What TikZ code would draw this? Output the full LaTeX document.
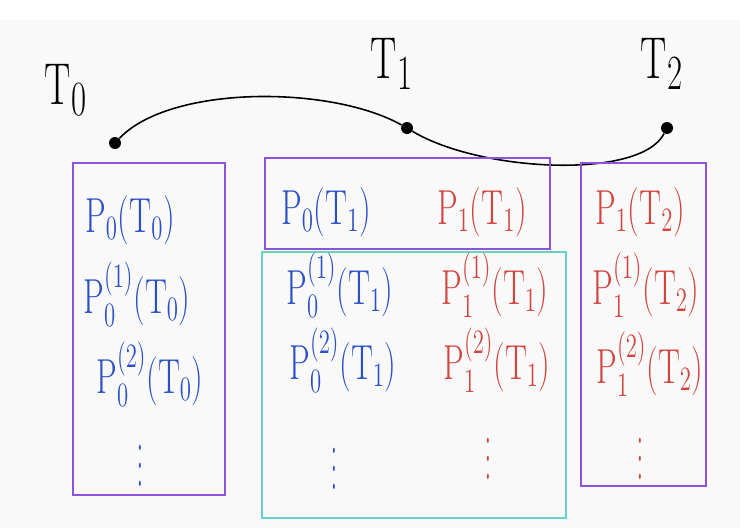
\documentclass[tikz,border=0pt]{standalone}
\usepackage{amsmath}

\definecolor{boxpurple}{HTML}{8E52DB}
\definecolor{boxcyan}{HTML}{62D4C8}
\definecolor{inkblue}{HTML}{2B4FC6}
\definecolor{inkred}{HTML}{D2453F}
\definecolor{paper}{HTML}{F9F9F9}

\newcommand{\hand}[1]{\scalebox{0.9}[1.35]{#1}}
\newcommand{\handdots}{\scalebox{1}[2.6]{\large$\vdots$}}

\begin{document}
\begin{tikzpicture}[
  x=0.02cm, y=-0.02cm,
  dot/.style={
    circle,
    fill=black,
    minimum size=2.4mm,
    inner sep=0pt
  },
  tlabel/.style={
    font=\Huge
  },
  curve/.style={
    line width=0.9pt
  },
  frame/.style={
    line width=1.3pt
  },
  term/.style={
    font=\huge,
    inner sep=1pt
  },
  blueterm/.style={term, text=inkblue},
  redterm/.style={term, text=inkred}
]

\path[use as bounding box] (0,0) rectangle (740,528);
\fill[paper] (0,20) rectangle (740,528);
\fill[white] (0,0) rectangle (740,20);

\node[dot] (t0) at (115,143) {};
\node[dot] (t1) at (407,128) {};
\node[dot] (t2) at (667,128) {};

\node[tlabel] (lt0) at (66,90) {\hand{$\mathrm{T}_0$}};
\node[tlabel] (lt1) at (392,64) {\hand{$\mathrm{T}_1$}};
\node[tlabel] (lt2) at (662,64) {\hand{$\mathrm{T}_2$}};

\draw[curve] (t0) .. controls (170,85) and (330,85) .. (t1);
\draw[curve] (t1) .. controls (480,172) and (640,180) .. (t2);

\draw[frame, boxpurple] (73,163) rectangle (225,495);
\draw[frame, boxpurple] (265,158) rectangle (550,249);
\draw[frame, boxpurple] (581,163) rectangle (706,486);
\draw[frame, boxcyan] (262,252) rectangle (566,518);

\node[blueterm] (a0) at (130,220) {\hand{$\mathrm{P}_0(\mathrm{T}_0)$}};
\node[blueterm] (a1) at (137,294) {\hand{$\mathrm{P}_0^{(1)}(\mathrm{T}_0)$}};
\node[blueterm] (a2) at (150,374) {\hand{$\mathrm{P}_0^{(2)}(\mathrm{T}_0)$}};
\node[blueterm] (a3) at (140,452) {\handdots};

\node[blueterm] (b0) at (326,212) {\hand{$\mathrm{P}_0(\mathrm{T}_1)$}};
\node[redterm]  (c0) at (482,212) {\hand{$\mathrm{P}_1(\mathrm{T}_1)$}};
\node[blueterm] (b1) at (340,285) {\hand{$\mathrm{P}_0^{(1)}(\mathrm{T}_1)$}};
\node[redterm]  (c1) at (495,285) {\hand{$\mathrm{P}_1^{(1)}(\mathrm{T}_1)$}};
\node[blueterm] (b2) at (343,360) {\hand{$\mathrm{P}_0^{(2)}(\mathrm{T}_1)$}};
\node[redterm]  (c2) at (497,360) {\hand{$\mathrm{P}_1^{(2)}(\mathrm{T}_1)$}};
\node[blueterm] (b3) at (334,455) {\handdots};
\node[redterm]  (c3) at (488,445) {\handdots};

\node[redterm] (d0) at (640,212) {\hand{$\mathrm{P}_1(\mathrm{T}_2)$}};
\node[redterm] (d1) at (646,285) {\hand{$\mathrm{P}_1^{(1)}(\mathrm{T}_2)$}};
\node[redterm] (d2) at (650,364) {\hand{$\mathrm{P}_1^{(2)}(\mathrm{T}_2)$}};
\node[redterm] (d3) at (640,445) {\handdots};

\end{tikzpicture}
\end{document}
